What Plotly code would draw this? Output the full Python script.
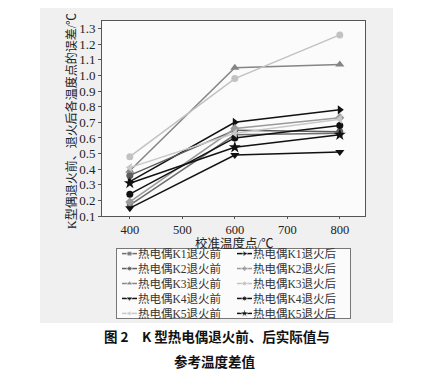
import plotly.graph_objects as go

temps = [400, 600, 800]
series_names = ["热电偶K1退火前", "热电偶K1退火后", "热电偶K2退火前", "热电偶K2退火后",
                "热电偶K3退火前", "热电偶K3退火后", "热电偶K4退火前", "热电偶K4退火后",
                "热电偶K5退火前", "热电偶K5退火后"]
k1_before = [0.17, 0.62, 0.63]
k1_after = [0.32, 0.70, 0.78]
k2_before = [0.36, 0.65, 0.64]
k2_after = [0.19, 0.66, 0.73]
k3_before = [0.39, 1.05, 1.07]
k3_after = [0.48, 0.98, 1.26]
k4_before = [0.15, 0.49, 0.51]
k4_after = [0.24, 0.60, 0.68]
k5_before = [0.41, 0.63, 0.72]
k5_after = [0.31, 0.54, 0.62]
values = [k1_before, k1_after, k2_before, k2_after, k3_before, k3_after,
          k4_before, k4_after, k5_before, k5_after]
y_ticks = [0.1, 0.2, 0.3, 0.4, 0.5, 0.6, 0.7, 0.8, 0.9, 1.0, 1.1, 1.2, 1.3]
x_ticks = [400, 500, 600, 700, 800]

styles = [
    ("#6e6e6e", "square", 6),
    ("#111111", "triangle-right", 8),
    ("#5e5e5e", "circle", 7),
    ("#9a9a9a", "diamond", 7),
    ("#858585", "triangle-up", 8),
    ("#c2c2c2", "circle", 7),
    ("#111111", "triangle-down", 8),
    ("#111111", "circle", 7),
    ("#c8c8c8", "triangle-left", 8),
    ("#111111", "star", 9),
]

# page body has an 8px margin: figure is drawn from (8, 8)
OFF = 8
W, H = 444 - OFF, 375 - OFF
serif = "Liberation Serif"
mixed = "Liberation Serif, Noto Sans CJK SC"
cjk = "Noto Sans CJK SC"

def fx(p):
    return (p - OFF) / W

def fy(p):
    return 1 - (p - OFF) / H

fig = go.Figure()

for name, vals, (col, sym, sz) in zip(series_names, values, styles):
    fig.add_trace(go.Scatter(
        x=temps, y=vals, name=name, mode="lines+markers",
        line=dict(color=col, width=1.5),
        marker=dict(color=col, symbol=sym, size=sz),
        showlegend=False, xaxis="x", yaxis="y",
    ))

# legend drawn as a small helper subplot (2 columns x 5 rows)
LW, LH = 233, 69
col_w = 115
leg_fs = 11.5
row_h = 1.3 * leg_fs
n_rows = 5
for i, (name, (col, sym, sz)) in enumerate(zip(series_names, styles)):
    c, r = i % 2, i // 2
    x0 = c * col_w + 5
    yc = LH / 2 + ((n_rows - 1) / 2 - r) * row_h
    fig.add_trace(go.Scatter(
        x=[x0, x0 + 7.5, x0 + 15], y=[yc, yc, yc], mode="lines+markers",
        line=dict(color=col, width=1.5),
        marker=dict(color=col, symbol=sym, size=[0, max(sz - 2, 5), 0]),
        showlegend=False, hoverinfo="skip", xaxis="x2", yaxis="y2",
    ))
for c in range(2):
    fig.add_annotation(xref="x2", yref="y2", x=c * col_w + 20, y=LH / 2,
                       xanchor="left", yanchor="middle", align="left",
                       text="<br>".join(series_names[c::2]), showarrow=False, borderpad=0,
                       font=dict(family=mixed, size=leg_fs, color="#333"))

# white strips around the grey scanned panel
for (a, b, c_, d) in [(0, 40, 0, 375), (393, 444, 0, 375), (0, 444, 323, 375)]:
    fig.add_shape(type="rect", xref="paper", yref="paper",
                  x0=fx(a), x1=fx(b), y0=fy(d), y1=fy(c_),
                  fillcolor="white", line=dict(width=0), layer="below")

fig.update_layout(
    width=W, height=H,
    margin=dict(l=0, r=0, t=0, b=0),
    paper_bgcolor="#f0f0f0",
    plot_bgcolor="#fbfbfb",
    showlegend=False,
    font=dict(family=serif, color="#222"),
    xaxis=dict(
        domain=[fx(102), fx(365)], anchor="y", automargin=False,
        range=[347, 848], tickvals=x_ticks, ticktext=[str(v) for v in x_ticks],
        showgrid=False, zeroline=False, showline=True, linecolor="#555", linewidth=1,
        mirror=True, ticks="outside", ticklen=2, tickcolor="#555",
        tickfont=dict(family=serif, size=12.5, color="#222"),
    ),
    yaxis=dict(
        domain=[fy(216), fy(21)], anchor="x", automargin=False,
        range=[0.1, 1.349], tickvals=y_ticks, ticktext=[f"{v:.1f}" for v in y_ticks],
        showgrid=False, zeroline=False, showline=True, linecolor="#555", linewidth=1,
        mirror=True, ticks="outside", ticklen=3, tickcolor="#555",
        tickfont=dict(family=serif, size=13, color="#222"),
    ),
    xaxis2=dict(
        domain=[fx(117), fx(350)], anchor="y2", range=[0, LW], automargin=False,
        showgrid=False, zeroline=False, showticklabels=False, ticks="",
        showline=True, mirror=True, linecolor="#777", linewidth=1,
    ),
    yaxis2=dict(
        domain=[fy(318), fy(249)], anchor="x2", range=[0, LH], automargin=False,
        showgrid=False, zeroline=False, showticklabels=False, ticks="",
        showline=True, mirror=True, linecolor="#777", linewidth=1,
    ),
)

# axis titles
fig.add_annotation(xref="paper", yref="paper", x=fx(234), y=fy(243), xanchor="center", yanchor="middle",
                   text="校准温度点/℃", showarrow=False, borderpad=0,
                   font=dict(family=mixed, size=12.5, color="#222"))
fig.add_annotation(xref="paper", yref="paper", x=fx(71), y=fy(121), xanchor="center", yanchor="middle",
                   text="K型偶退火前、退火后各温度点的误差/℃", showarrow=False, textangle=-90, borderpad=0,
                   font=dict(family=mixed, size=12, color="#222"))

# caption
fig.add_annotation(xref="paper", yref="paper", x=fx(217), y=fy(336), xanchor="center", yanchor="middle",
                   text="<b>图 2　K 型热电偶退火前、后实际值与</b>", showarrow=False,
                   font=dict(family=cjk, size=13.5, color="#111"))
fig.add_annotation(xref="paper", yref="paper", x=fx(215), y=fy(361), xanchor="center", yanchor="middle",
                   text="<b>参考温度差值</b>", showarrow=False,
                   font=dict(family=cjk, size=13.5, color="#111"))

fig.write_html("out.html")
